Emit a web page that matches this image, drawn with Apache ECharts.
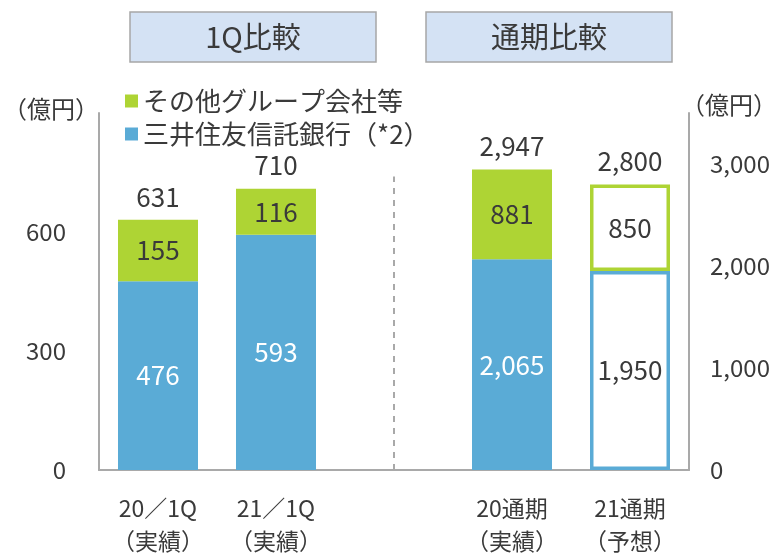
<!DOCTYPE html>
<html>
<head>
<meta charset="utf-8">
<script src="https://cdn.jsdelivr.net/npm/echarts@6/dist/echarts.min.js"></script>
<style>
  html, body { margin: 0; padding: 0; background: #fff; }
  #chart { width: 780px; height: 558px; }
</style>
</head>
<body>
<div id="chart"></div>
<script>
// categories (middle one is the empty gap between the two blocks)
var categories = ['20／1Q\n（実績）', '21／1Q\n（実績）', '', '20通期\n（実績）', '21通期\n（予想）'];

// 1Q block, left axis (億円)
var bankQ  = [476, 593, '-', '-', '-'];
var otherQ = [155, 116, '-', '-', '-'];
var totalQ = [631, 710, '-', '-', '-'];

// full-year block, right axis (億円)
var bankF  = ['-', '-', '-', 2065, 1950];
var otherF = ['-', '-', '-', 881, 850];
var totalF = ['-', '-', '-', 2947, 2800];

var forecastIdx = 4; // 21通期 is a forecast -> outlined bar

var leftTicks  = {min: 0, max: 900, interval: 300};
var rightTicks = {min: 0, max: 3500, interval: 1000};

var BLUE = '#5aabd6', GREEN = '#aed434', TXT = '#3a3a3a', AXIS = '#a9a9a9';
var FONT = '"Noto Sans CJK JP", "Noto Sans", sans-serif';

function fmt(v) {
    return Number(v).toLocaleString('en-US');
}

// turn forecast cell into outlined item
function styled(arr, color) {
    return arr.map(function (v, i) {
        if (i !== forecastIdx || v === '-') return v;
        return {
            value: v,
            itemStyle: {color: '#fff', borderColor: color, borderWidth: 3.5},
            label: {color: TXT}
        };
    });
}

var chart = echarts.init(document.getElementById('chart'), null, {renderer: 'canvas'});

var inLabel = function (color) {
    return {show: true, position: 'inside', fontSize: 26, fontFamily: FONT, color: color,
        formatter: function (p) { return fmt(p.value); }};
};
var topLabel = {show: true, position: 'top', distance: 10, fontSize: 26, fontFamily: FONT, color: TXT,
    formatter: function (p) { return fmt(p.value); }};

var option = {
    animation: false,
    textStyle: {fontFamily: FONT},
    grid: {left: 96, right: 88, top: 113, bottom: 87, containLabel: false},
    legend: {
        orient: 'vertical', left: 120, top: 83, itemGap: 7,
        itemWidth: 13, itemHeight: 13, icon: 'rect',
        textStyle: {fontSize: 26, color: TXT, fontFamily: FONT},
        data: ['その他グループ会社等', '三井住友信託銀行（*2）']
    },
    graphic: [
        {type: 'rect', shape: {x: 130, y: 12, width: 246, height: 50},
            style: {fill: '#d4e2f4', stroke: '#a6a6a6', lineWidth: 1.5}},
        {type: 'text', x: 253, y: 37,
            style: {text: '1Q比較', fontSize: 29, fontFamily: FONT, fill: TXT, align: 'center', verticalAlign: 'middle'}},
        {type: 'rect', shape: {x: 426, y: 12, width: 246, height: 50},
            style: {fill: '#d4e2f4', stroke: '#a6a6a6', lineWidth: 1.5}},
        {type: 'text', x: 549, y: 37,
            style: {text: '通期比較', fontSize: 29, fontFamily: FONT, fill: TXT, align: 'center', verticalAlign: 'middle'}}
    ],
    xAxis: {
        type: 'category', data: categories,
        axisLine: {lineStyle: {color: AXIS, width: 2}},
        axisTick: {show: false},
        axisLabel: {fontSize: 23, lineHeight: 33, color: TXT, margin: 22, fontFamily: FONT, interval: 0}
    },
    yAxis: [
        {type: 'value', position: 'left', min: leftTicks.min, max: leftTicks.max, interval: leftTicks.interval,
            name: '（億円）', nameLocation: 'end', nameGap: 4,
            nameTextStyle: {fontSize: 24, color: TXT, align: 'right', verticalAlign: 'middle', fontFamily: FONT},
            axisLine: {show: true, lineStyle: {color: AXIS, width: 2}},
            axisTick: {show: false}, splitLine: {show: false},
            axisLabel: {fontSize: 24, color: TXT, margin: 33, showMaxLabel: false, fontFamily: FONT, formatter: fmt}},
        {type: 'value', position: 'right', min: rightTicks.min, max: rightTicks.max, interval: rightTicks.interval,
            name: '（億円）', nameLocation: 'end', nameGap: 8,
            nameTextStyle: {fontSize: 24, color: TXT, align: 'left', verticalAlign: 'middle', fontFamily: FONT,
                padding: [0, 0, 0, -8]},
            axisLine: {show: true, lineStyle: {color: AXIS, width: 2}},
            axisTick: {show: false}, splitLine: {show: false},
            axisLabel: {fontSize: 24, color: TXT, margin: 21, showMaxLabel: false, fontFamily: FONT, formatter: fmt}}
    ],
    series: [
        {name: '三井住友信託銀行（*2）', type: 'bar', stack: 'q', yAxisIndex: 0, barWidth: 80, barGap: '-100%',
            itemStyle: {color: BLUE}, label: inLabel('#fff'), data: bankQ,
            markLine: {
                silent: true, symbol: 'none', label: {show: false},
                lineStyle: {type: [6, 6], color: AXIS, width: 2},
                data: [[{coord: [2, 0]}, {coord: [2, 740]}]]
            }},
        {name: 'その他グループ会社等', type: 'bar', stack: 'q', yAxisIndex: 0, barWidth: 80,
            itemStyle: {color: GREEN}, label: inLabel(TXT), data: otherQ},
        {name: 'totalQ', type: 'bar', yAxisIndex: 0, barWidth: 80, z: 1,
            itemStyle: {color: 'rgba(0,0,0,0)'}, label: topLabel, data: totalQ},
        {name: '三井住友信託銀行（*2）', type: 'bar', stack: 'f', yAxisIndex: 1, barWidth: 80,
            itemStyle: {color: BLUE}, label: inLabel('#fff'), data: styled(bankF, BLUE)},
        {name: 'その他グループ会社等', type: 'bar', stack: 'f', yAxisIndex: 1, barWidth: 80,
            itemStyle: {color: GREEN}, label: inLabel(TXT), data: styled(otherF, GREEN)},
        {name: 'totalF', type: 'bar', yAxisIndex: 1, barWidth: 80, z: 1,
            itemStyle: {color: 'rgba(0,0,0,0)'}, label: topLabel, data: totalF}
    ]
};

chart.setOption(option);
</script>
</body>
</html>
